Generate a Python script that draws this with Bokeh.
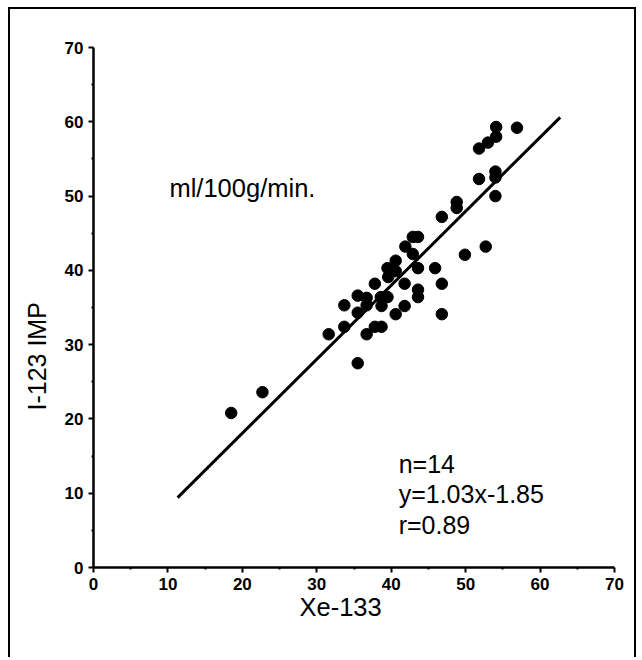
from bokeh.plotting import figure
from bokeh.models import FixedTicker, Label, Range1d, Title
from bokeh.embed import file_html
from bokeh.resources import INLINE

# Data (Xe-133 vs I-123 IMP, ml/100g/min)
xe133 = [18.5, 22.7, 31.6, 33.7, 35.5, 33.7, 35.5, 35.5, 36.7, 36.7,
         36.7, 37.8, 38.7, 37.8, 38.6, 39.5, 38.7, 40.6, 41.8, 41.8,
         39.5, 40.6, 39.6, 40.6, 41.9, 42.9, 42.9, 43.6, 43.6, 43.6,
         43.6, 45.9, 46.8, 46.8, 46.8, 49.9, 52.7, 48.8, 48.8, 51.8,
         54.0, 54.0, 54.0, 51.8, 53.0, 54.1, 54.1, 56.9]
imp123 = [20.8, 23.6, 31.4, 32.4, 27.5, 35.3, 34.3, 36.6, 36.3, 35.3,
          31.4, 32.4, 32.4, 38.2, 36.4, 36.4, 35.2, 34.1, 35.2, 38.2,
          40.3, 39.9, 39.1, 41.3, 43.2, 42.2, 44.5, 44.5, 40.3, 37.4,
          36.4, 40.3, 38.2, 34.1, 47.2, 42.1, 43.2, 49.2, 48.4, 52.3,
          53.3, 52.5, 50.0, 56.4, 57.2, 58.0, 59.3, 59.2]

# Regression line as drawn
fit_x = [11.3, 62.7]
fit_y = [9.4, 60.6]

tick_values = [0, 10, 20, 30, 40, 50, 60, 70]
minor_values = [5, 15, 25, 35, 45, 55, 65]

x_title = "Xe-133"
y_title = "I-123 IMP"
unit_text = "ml/100g/min."
stats_lines = ["n=14", "y=1.03x-1.85", "r=0.89"]

FONT = "Liberation Sans"

p = figure(width=628, height=650, output_backend="svg", toolbar_location=None,
           x_range=Range1d(0, 70), y_range=Range1d(0, 70),
           min_border_left=83, min_border_right=24, min_border_top=38,
           min_border_bottom=92)
p.styles = {"border-left": "2px solid black", "border-top": "2px solid black",
            "border-right": "2px solid black", "margin-left": "8px",
            "margin-top": "7px"}
p.outline_line_color = None
p.grid.visible = False
p.background_fill_color = "white"
p.border_fill_color = "white"

for ax in (p.xaxis[0], p.yaxis[0]):
    ax.ticker = FixedTicker(ticks=tick_values, minor_ticks=minor_values)
    ax.axis_line_width = 2.5
    ax.axis_line_color = "black"
    ax.major_tick_line_width = 2
    ax.major_tick_in = 0
    ax.major_tick_out = 5
    ax.minor_tick_line_width = 2
    ax.minor_tick_in = 0
    ax.minor_tick_out = 2
    ax.major_label_text_font = FONT
    ax.major_label_text_font_style = "bold"
    ax.major_label_text_font_size = "17px"
    ax.major_label_text_color = "black"

p.xaxis.major_label_standoff = 5
p.yaxis.major_label_standoff = 5

# Axis titles as side titles (offset like the original)
p.add_layout(Title(text=y_title, align="left", offset=157, standoff=20,
                   vertical_align="middle", text_font=FONT,
                   text_font_size="25px", text_font_style="normal",
                   text_color="black"), "left")
p.add_layout(Title(text=x_title, align="left", offset=206, standoff=0,
                   vertical_align="top", text_font=FONT,
                   text_font_size="25.5px", text_font_style="normal",
                   text_color="black"), "below")

p.line(fit_x, fit_y, line_color="black", line_width=3)
p.scatter(xe133, imp123, size=11.5, fill_color="black", line_color="black")

p.add_layout(Label(x=10.2, y=51.1, text=unit_text, text_font=FONT,
                   text_font_size="25.5px", text_baseline="middle",
                   text_color="black"))
for i, s in enumerate(stats_lines):
    p.add_layout(Label(x=41.0, y=14.0 - i * 4.15, text=s, text_font=FONT,
                       text_font_size="25px", text_baseline="middle",
                       text_color="black"))

open("out.html", "w").write(file_html(p, INLINE))
